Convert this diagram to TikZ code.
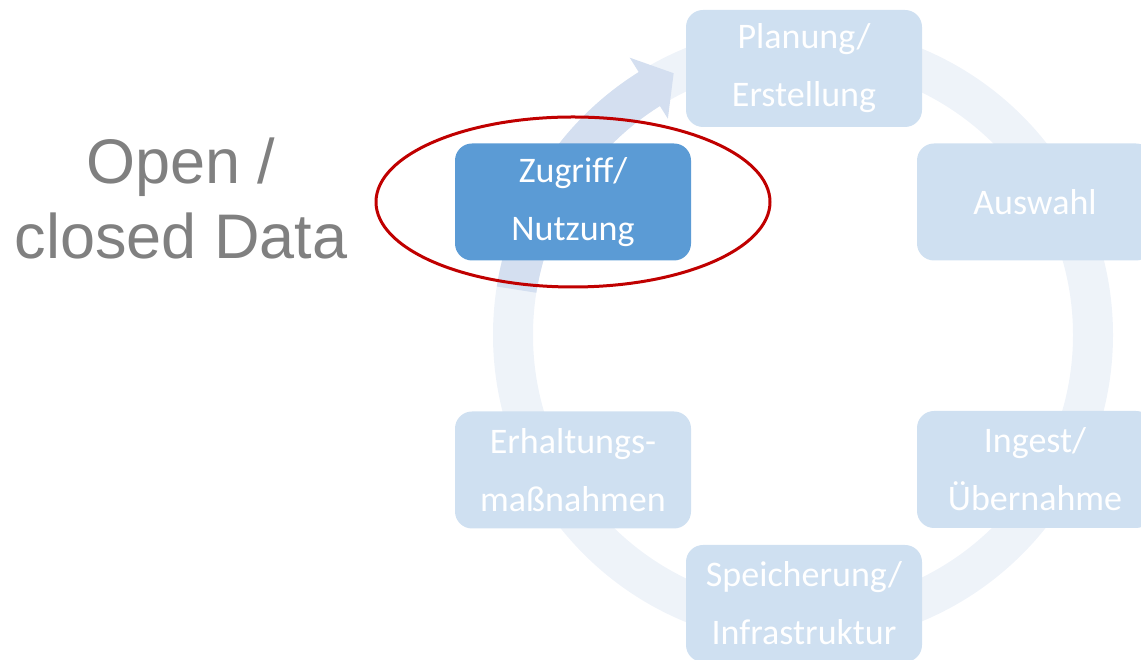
\documentclass[tikz,border=0pt]{standalone}
\usepackage{fontspec}
\newfontfamily\calib{Carlito}
\newfontfamily\arialf{Liberation Sans}
\usetikzlibrary{calc}
\definecolor{boxlight}{HTML}{CFE0F1}
\definecolor{boxdark}{HTML}{5B9BD5}
\definecolor{ringc}{HTML}{EEF3F9}
\definecolor{arrowc}{HTML}{D4DFF0}
\definecolor{redc}{HTML}{C00000}
\definecolor{grayt}{HTML}{808080}
\tikzset{
  stagebox/.style={draw=none, fill=boxlight, rounded corners=17pt, minimum width=236pt, minimum height=117pt,
    inner sep=0pt, align=center, text=white, font=\calib\fontsize{36}{58}\selectfont},
  activebox/.style={stagebox, fill=boxdark},
  ringline/.style={draw=ringc, line width=40pt},
  highlight/.style={draw=redc, line width=3pt},
  sidetext/.style={inner sep=0pt, align=center, text=grayt, font=\arialf\fontsize{63}{75}\selectfont}
}
\begin{document}
\begin{tikzpicture}[x=1pt,y=1pt]
\useasboundingbox (0,0) rectangle (1141,660);
\clip (0,0) rectangle (1141,660);
\coordinate (C) at (803,325);
% ring
\draw[ringline] (C) circle[radius=290];
% arrow segment
\fill[arrowc] ([shift={(C)}]171:310) arc[start angle=171, end angle=122, radius=310]
  -- ([shift={(C)}]122:327) -- ([shift={(C)}]116.3:292) -- ([shift={(C)}]122:255)
  -- ([shift={(C)}]122:270) arc[start angle=122, end angle=171, radius=270] -- cycle;
% boxes
\node[stagebox] (plan) at (804,591.5) {Planung/\\Erstellung};
\node[stagebox] (ausw) at (1035,458) {Auswahl};
\node[stagebox] (ingest) at (1035,190.5) {Ingest/\\Übernahme};
\node[stagebox] (speich) at (804,56.5) {Speicherung/\\Infrastruktur};
\node[stagebox] (erh) at (573,190) {Erhaltungs-\\maßnahmen};
\node[activebox] (zugr) at (573,458) {Zugriff/\\Nutzung};
% highlight ellipse
\draw[highlight] (zugr.center) ellipse[x radius=197, y radius=85];
% side text
\node[sidetext] (open) at (181,462) {Open /\\closed Data};
\end{tikzpicture}
\end{document}
